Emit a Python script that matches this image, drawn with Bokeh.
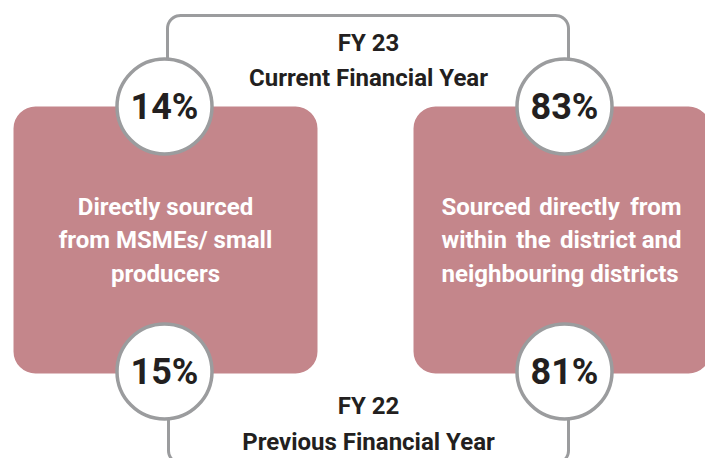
import numpy as np
from bokeh.plotting import figure
from bokeh.models import Range1d
from bokeh.core.properties import value
from bokeh.embed import file_html
from bokeh.resources import INLINE

# ---- data ----
year_labels = ["FY 23", "FY 22"]
year_desc = ["Current Financial Year", "Previous Financial Year"]
left_label = ["Directly sourced", "from MSMEs/ small", "producers"]
right_label = [["Sourced", "directly", "from"],
               ["within", "the", "district", "and"],
               ["neighbouring districts"]]
left_values = [14, 15]    # FY23, FY22
right_values = [83, 81]   # FY23, FY22

# ---- style / layout ----
FONT = value("Roboto")
BOX = "#c4868b"
GREY = "#9b9c9e"
DARK = "#231f20"
FS = "24px"

W, H = 705, 458
p = figure(width=W, height=H, output_backend="svg", toolbar_location=None,
           x_range=Range1d(0, W), y_range=Range1d(H, 0),
           min_border=0, outline_line_color=None)
p.axis.visible = False
p.grid.visible = False
p.background_fill_color = "white"
p.border_fill_color = "white"

def bracket(x0, x1, y_end, y_bar, r):
    s = 1 if y_end > y_bar else -1
    xs, ys = [x0], [y_end]
    t = np.linspace(np.pi, 1.5 * np.pi, 12)
    cx, cy = x0 + r, y_bar + s * r
    xs += list(cx + r * np.cos(t)); ys += list(cy + s * r * np.sin(t))
    t = np.linspace(1.5 * np.pi, 2 * np.pi, 12)
    cx, cy = x1 - r, y_bar + s * r
    xs += list(cx + r * np.cos(t)); ys += list(cy + s * r * np.sin(t))
    xs.append(x1); ys.append(y_end)
    return xs, ys

xs, ys = bracket(167, 568, 106, 15, 13)
p.line(xs, ys, line_color=GREY, line_width=3)
xs, ys = bracket(168, 568, 371, 463, 13)
p.line(xs, ys, line_color=GREY, line_width=3)

# boxes
p.quad(left=[13, 413], right=[317, 710], top=[106, 106], bottom=[373, 373],
       fill_color=BOX, line_color=None, border_radius=22)

# circles
cx_left, cx_right = 164, 564
cy_top, cy_bot = 106, 371
p.circle(x=[cx_left, cx_right, cx_left, cx_right], y=[cy_top, cy_top, cy_bot, cy_bot],
         radius=47.5, fill_color="white", line_color=GREY, line_width=3.5)

pct = [f"{v}%" for v in [left_values[0], right_values[0], left_values[1], right_values[1]]]
p.text(x=[cx_left, cx_right, cx_left, cx_right], y=[106.5, 106.5, 371.5, 371.5], text=pct,
       text_font=FONT, text_font_style="bold", text_font_size="36px",
       text_color=DARK, text_align="center", text_baseline="middle")

# year headers
p.text(x=[368, 368], y=[42.5, 405], text=year_labels, text_font=FONT,
       text_font_style="bold", text_font_size=FS, text_color=DARK,
       text_align="center", text_baseline="middle")
p.text(x=[368, 368], y=[77, 441], text=year_desc, text_font=FONT,
       text_font_style="bold", text_font_size=FS, text_color=DARK,
       text_align="center", text_baseline="middle")

# box labels
ly = [206, 239.5, 273]
p.text(x=[165] * 3, y=ly, text=left_label, text_font=FONT, text_font_style="bold",
       text_font_size=FS, text_color="white", text_align="center",
       text_baseline="middle")

# right label, justified
jx = [[441, 579, 681], [441, 533, 597.5, 681], [441]]
jal = [["left", "center", "right"], ["left", "center", "center", "right"], ["left"]]
for words, xsw, als, y in zip(right_label, jx, jal, ly):
    for w, x, a in zip(words, xsw, als):
        p.text(x=[x], y=[y], text=[w], text_font=FONT, text_font_style="bold",
               text_font_size=FS, text_color="white", text_align=a,
               text_baseline="middle")

open("out.html", "w").write(file_html(p, INLINE))
